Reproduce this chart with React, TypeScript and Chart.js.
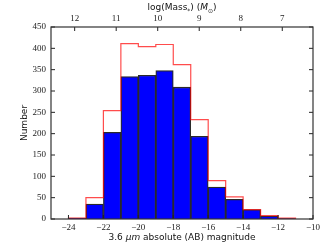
import React, { useEffect, useRef } from "react";
import { Chart, registerables } from "chart.js";

Chart.register(...registerables);

// Magnitude bins (left edges) and counts
const blueBinStarts = [-25, -24, -23, -22, -21, -20, -19, -18, -17, -16, -15, -14, -13, -12, -11];
const blueCounts = [0, 2, 35, 203, 334, 337, 348, 309, 194, 75, 46, 22, 7, 1, 0];
const redBinStarts = [-24, -23, -22, -21, -20, -19, -18, -17, -16, -15, -14, -13, -12];
const redCounts = [2, 50, 254, 411, 404, 409, 362, 233, 90, 52, 22, 8, 2];
const binWidth = 1;

const xTicks = [-24, -22, -20, -18, -16, -14, -12, -10];
const yTicks = [0, 50, 100, 150, 200, 250, 300, 350, 400, 450];
const massTicks = [12, 11, 10, 9, 8, 7];

const xRange = [-25, -10];
const yRange = [0, 450];
const massRange = [6.26, 12.57];

const tickFont = { family: "'Liberation Serif', serif", size: 9 };
const labelFamily = "'DejaVu Sans', sans-serif";

const fmt = (v: number) => (v < 0 ? "\u2212" + Math.abs(v) : String(v));

function drawRich(ctx: CanvasRenderingContext2D, parts: { text: string; font: string; dy?: number }[], cx: number, cy: number) {
  const widths = parts.map((p) => {
    ctx.font = p.font;
    return ctx.measureText(p.text).width;
  });
  const total = widths.reduce((a, b) => a + b, 0);
  let x = cx - total / 2;
  ctx.textAlign = "left";
  ctx.textBaseline = "middle";
  parts.forEach((p, i) => {
    ctx.font = p.font;
    ctx.fillText(p.text, x, cy + (p.dy || 0));
    x += widths[i];
  });
}

const framePlugin = {
  id: "frameTicks",
  afterDatasetsDraw(chart: any) {
    const { ctx, chartArea } = chart;
    const { left, right, top, bottom } = chartArea;
    const x = chart.scales.x;
    const y = chart.scales.y;
    const m = chart.scales.mass;
    ctx.save();
    ctx.strokeStyle = "#222";
    ctx.lineWidth = 1;
    const tl = 4;
    ctx.beginPath();
    yTicks.forEach((v) => {
      const py = y.getPixelForValue(v);
      ctx.moveTo(left, py);
      ctx.lineTo(left + tl, py);
      ctx.moveTo(right, py);
      ctx.lineTo(right - tl, py);
    });
    xTicks.forEach((v) => {
      const px = x.getPixelForValue(v);
      ctx.moveTo(px, bottom);
      ctx.lineTo(px, bottom - tl);
    });
    massTicks.forEach((v) => {
      const px = m.getPixelForValue(v);
      ctx.moveTo(px, top);
      ctx.lineTo(px, top + tl);
    });
    ctx.stroke();
    ctx.strokeStyle = "#333";
    ctx.lineWidth = 1.2;
    ctx.strokeRect(left, top, right - left, bottom - top);

    // axis titles
    ctx.fillStyle = "#111";
    const f = (s: number, it = false) => `${it ? "italic " : ""}${s}px ${labelFamily}`;
    const cx = (left + right) / 2;
    drawRich(
      ctx,
      [
        { text: "3.6 ", font: f(9) },
        { text: "\u03bcm", font: f(9, true) },
        { text: " absolute (AB) magnitude", font: f(9) },
      ],
      cx,
      238
    );
    drawRich(
      ctx,
      [
        { text: "log(Mass", font: f(9) },
        { text: "*", font: f(6), dy: 3 },
        { text: ") (", font: f(9) },
        { text: "M", font: f(9, true) },
        { text: "\u2299", font: f(6), dy: 3 },
        { text: ")", font: f(9) },
      ],
      cx,
      8
    );
    ctx.save();
    ctx.translate(25, (top + bottom) / 2);
    ctx.rotate(-Math.PI / 2);
    drawRich(ctx, [{ text: "Number", font: f(9) }], 0, 0);
    ctx.restore();
    ctx.restore();
  },
};

export default function App() {
  const ref = useRef<HTMLCanvasElement | null>(null);
  useEffect(() => {
    if (!ref.current) return;
    const redPoints: { x: number; y: number }[] = [{ x: redBinStarts[0], y: 0 }];
    redBinStarts.forEach((s, i) => redPoints.push({ x: s, y: redCounts[i] }));
    const lastEnd = redBinStarts[redBinStarts.length - 1] + binWidth;
    redPoints.push({ x: lastEnd, y: 0 });

    const bluePoints = blueBinStarts.map((s, i) => ({ x: s + binWidth / 2, y: blueCounts[i] }));

    const chart = new Chart(ref.current, {
      type: "bar",
      data: {
        datasets: [
          {
            type: "line",
            data: redPoints,
            stepped: "before",
            borderColor: "rgba(255,0,0,0.7)",
            borderWidth: 1.2,
            pointRadius: 0,
            fill: false,
            order: 0,
            xAxisID: "x",
            yAxisID: "y",
          } as any,
          {
            type: "bar",
            data: bluePoints,
            backgroundColor: "#0000ff",
            borderColor: "#2a2a2a",
            borderWidth: 1.3,
            borderSkipped: "start",
            barPercentage: 1,
            categoryPercentage: 1,
            order: 1,
            xAxisID: "x",
            yAxisID: "y",
          } as any,
        ],
      },
      options: {
        animation: false,
        responsive: false,
        maintainAspectRatio: false,
        layout: { padding: { left: 0, right: 19, top: 0, bottom: 0 } },
        plugins: { legend: { display: false }, tooltip: { enabled: false } },
        scales: {
          x: {
            type: "linear",
            position: "bottom",
            offset: false,
            min: xRange[0],
            max: xRange[1],
            afterBuildTicks: (s: any) => {
              s.ticks = xTicks.map((v) => ({ value: v }));
            },
            afterFit: (s: any) => {
              s.height = 30;
            },
            ticks: { font: tickFont, color: "#222", padding: 3, maxRotation: 0, autoSkip: false, callback: (v: any) => fmt(Number(v)) },
            grid: { display: false, drawTicks: false, offset: false },
            border: { display: false },
          },
          mass: {
            type: "linear",
            position: "top",
            offset: false,
            reverse: true,
            min: massRange[0],
            max: massRange[1],
            afterBuildTicks: (s: any) => {
              s.ticks = massTicks.map((v) => ({ value: v }));
            },
            afterFit: (s: any) => {
              s.height = 27;
            },
            ticks: { font: tickFont, color: "#222", padding: 3, maxRotation: 0, autoSkip: false, callback: (v: any) => fmt(Number(v)) },
            grid: { display: false, drawTicks: false, offset: false },
            border: { display: false },
          },
          y: {
            type: "linear",
            position: "left",
            min: yRange[0],
            max: yRange[1],
            afterBuildTicks: (s: any) => {
              s.ticks = yTicks.map((v) => ({ value: v }));
            },
            afterFit: (s: any) => {
              s.width = 51;
            },
            ticks: { font: tickFont, color: "#222", padding: 5, autoSkip: false, callback: (v: any) => fmt(Number(v)) },
            grid: { display: false, drawTicks: false },
            border: { display: false },
          },
        },
      },
      plugins: [framePlugin],
    });
    return () => chart.destroy();
  }, []);
  return (
    <div style={{ position: "fixed", left: 0, top: 0, width: 332, height: 249, background: "#fff" }}>
      <canvas ref={ref} width={332} height={249} style={{ display: "block", width: 332, height: 249 }} />
    </div>
  );
}
